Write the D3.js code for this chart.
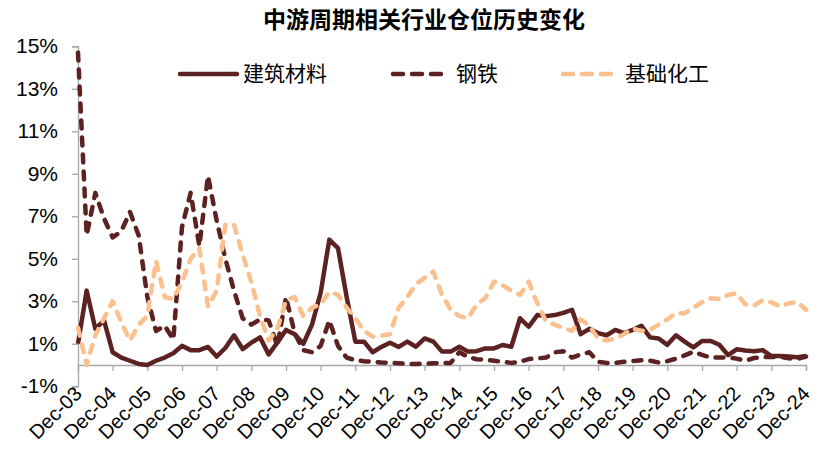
<!DOCTYPE html>
<html>
<head>
<meta charset="utf-8">
<script src="https://cdn.jsdelivr.net/npm/d3@7/dist/d3.min.js"></script>
<style>
  html, body { margin: 0; padding: 0; background: #fff; }
  svg { display: block; font-family: "Liberation Sans", Arial, "Noto Sans CJK SC", sans-serif; }
</style>
</head>
<body>
<svg id="chart" width="818" height="450"></svg>
<script>
// ---- data (quarterly, Dec-03 .. Dec-24), values in % ----
const title = "中游周期相关行业仓位历史变化";
const seriesNames = ["建筑材料", "钢铁", "基础化工"];
const years = d3.range(2003, 2025);
const tickLabels = ["Dec-03","Dec-04","Dec-05","Dec-06","Dec-07","Dec-08","Dec-09","Dec-10","Dec-11","Dec-12","Dec-13","Dec-14","Dec-15","Dec-16","Dec-17","Dec-18","Dec-19","Dec-20","Dec-21","Dec-22","Dec-23","Dec-24"];
const yTicks = [-1, 1, 3, 5, 7, 9, 11, 13, 15];

const buildingMaterials = [
  1.0, 3.5, 1.7, 2.1, 0.6, 0.35, 0.2, 0.05, 0.0, 0.2, 0.35, 0.55,
  0.9, 0.7, 0.7, 0.85, 0.4, 0.8, 1.4, 0.75, 1.05, 1.3, 0.5, 1.05,
  1.65, 1.45, 1.0, 1.9, 3.4, 5.9, 5.5, 3.2, 1.1, 1.1, 0.6, 0.85,
  1.05, 0.85, 1.1, 0.86, 1.25, 1.1, 0.63, 0.63, 0.86, 0.63, 0.65, 0.78,
  0.78, 0.94, 0.86, 2.2, 1.8, 2.35, 2.3, 2.35, 2.45, 2.6, 1.45, 1.7,
  1.5, 1.4, 1.65, 1.5, 1.65, 1.85, 1.3, 1.25, 0.95, 1.4, 1.1, 0.83,
  1.13, 1.13, 0.95, 0.47, 0.74, 0.68, 0.65, 0.7, 0.42, 0.42, 0.4, 0.36,
  0.42
];
const steel = [
  14.7, 6.1, 8.1, 6.9, 6.0, 6.3, 7.2, 6.1, 3.2, 1.6, 1.85, 1.2,
  6.5, 8.1, 5.6, 8.9, 6.8, 5.0, 3.5, 2.2, 1.9, 2.15, 2.1, 0.9,
  3.2, 1.5, 0.7, 0.6, 0.9, 2.1, 0.9, 0.35, 0.22, 0.18, 0.15, 0.12,
  0.1, 0.08, 0.05, 0.05, 0.06, 0.08, 0.1, 0.1, 0.6, 0.38, 0.27, 0.25,
  0.2, 0.15, 0.1, 0.15, 0.28, 0.31, 0.35, 0.6, 0.65, 0.35, 0.5, 0.6,
  0.15, 0.1, 0.1, 0.15, 0.18, 0.22, 0.2, 0.12, 0.18, 0.3, 0.45, 0.62,
  0.48, 0.35, 0.35, 0.36, 0.3, 0.2, 0.33, 0.37, 0.38, 0.38, 0.32, 0.28,
  0.4
];
const basicChemicals = [
  1.75, 0.0, 1.4, 2.2, 3.0, 2.0, 1.15, 1.9, 2.3, 4.9, 3.2, 3.1,
  3.9, 5.0, 5.5, 2.75, 3.5, 6.6, 6.6, 5.2, 3.9, 2.3, 1.15, 1.7,
  3.05, 3.2, 2.3, 2.7, 2.85, 3.45, 3.3, 2.7, 2.2, 1.6, 1.33, 1.38,
  1.45, 2.7, 3.2, 3.8, 4.1, 4.4, 3.3, 2.6, 2.3, 2.2, 2.85, 3.15,
  3.92, 3.75, 3.5, 3.3, 3.92, 2.9, 2.05, 1.9, 1.75, 1.6, 2.15, 1.85,
  1.25, 1.15, 1.25, 1.45, 1.72, 1.6, 1.65, 1.9, 2.15, 2.45, 2.43, 2.7,
  2.95, 3.14, 3.1, 3.3, 3.37, 2.85, 2.8, 3.05, 2.95, 2.75, 2.9, 2.97,
  2.6
];

// quarter categories: Dec-03, Mar-04, Jun-04, Sep-04, Dec-04, ...
const quarters = ["Dec-03"];
years.slice(1).forEach(y => {
  const yy = String(y).slice(2);
  ["Mar", "Jun", "Sep", "Dec"].forEach(m => quarters.push(m + "-" + yy));
});

// ---- layout ----
const DARK = "#5C2121";
const PEACH = "#FBC08E";
const AXIS = "#A6A6A6";
const svg = d3.select("#chart");

const x = d3.scalePoint().domain(quarters).range([78, 806]);
const y = d3.scaleLinear().domain([-1, 15]).range([386.25, 46.25]);

// title
svg.append("text")
  .attr("x", 424).attr("y", 28)
  .attr("text-anchor", "middle")
  .attr("font-size", 23).attr("font-weight", "bold")
  .attr("font-family", "'Noto Sans CJK SC', sans-serif")
  .text(title);

// y axis
const yAxis = d3.axisLeft(y).tickValues(yTicks).tickSize(6).tickPadding(14)
  .tickFormat(d => d + "%");
const gy = svg.append("g").attr("transform", "translate(78,0)").call(yAxis);
gy.select(".domain").attr("stroke", AXIS).attr("stroke-width", 1.3);
gy.selectAll(".tick line").attr("stroke", AXIS).attr("stroke-width", 1.3);
gy.selectAll(".tick text").attr("font-size", 21).attr("fill", "#000")
  .attr("font-family", "'Liberation Sans', Arial, sans-serif");

// x axis at 0%
const tickQuarters = quarters.filter(q => q.startsWith("Dec"));
const xAxis = d3.axisBottom(x).tickValues(tickQuarters).tickSize(6).tickFormat("");
const gx = svg.append("g").attr("transform", `translate(0,${y(0)})`).call(xAxis);
gx.select(".domain").attr("stroke", AXIS).attr("stroke-width", 1.3);
gx.selectAll(".tick line").attr("stroke", AXIS).attr("stroke-width", 1.3);

svg.append("g").selectAll("text")
  .data(tickQuarters)
  .join("text")
  .attr("transform", (d, i) => `translate(${x(d) + 5},${395}) rotate(-45)`)
  .attr("text-anchor", "end")
  .attr("font-size", 20)
  .attr("font-family", "'Liberation Sans', Arial, sans-serif")
  .attr("fill", "#000")
  .text((d, i) => tickLabels[i]);

// lines
const line = d3.line()
  .x((d, i) => x(quarters[i]))
  .y(d => y(d));

const series = [
  { name: seriesNames[0], values: buildingMaterials, color: DARK, dash: null },
  { name: seriesNames[1], values: steel, color: DARK, dash: "8,9" },
  { name: seriesNames[2], values: basicChemicals, color: PEACH, dash: "8,9" }
];

series.forEach(s => {
  svg.append("path")
    .datum(s.values)
    .attr("d", line)
    .attr("fill", "none")
    .attr("stroke", s.color)
    .attr("stroke-width", 4.5)
    .attr("stroke-linejoin", "round")
    .attr("stroke-linecap", s.dash ? "round" : "butt")
    .attr("stroke-dasharray", s.dash);
});

// legend
const legendItems = [
  { x1: 180, x2: 237, tx: 243 },
  { x1: 393, x2: 444, tx: 456 },
  { x1: 563, x2: 613, tx: 625 }
];
const ly = 74;
series.forEach((s, i) => {
  const L = legendItems[i];
  svg.append("line")
    .attr("x1", L.x1).attr("x2", L.x2).attr("y1", ly).attr("y2", ly)
    .attr("stroke", s.color).attr("stroke-width", 4.5)
    .attr("stroke-linecap", "round")
    .attr("stroke-dasharray", s.dash ? "10,9" : null);
  svg.append("text")
    .attr("x", L.tx).attr("y", ly)
    .attr("dy", "0.35em")
    .attr("font-size", 21)
    .attr("font-family", "'Noto Sans CJK SC', sans-serif")
    .attr("fill", "#000")
    .text(s.name);
});
</script>
</body>
</html>
